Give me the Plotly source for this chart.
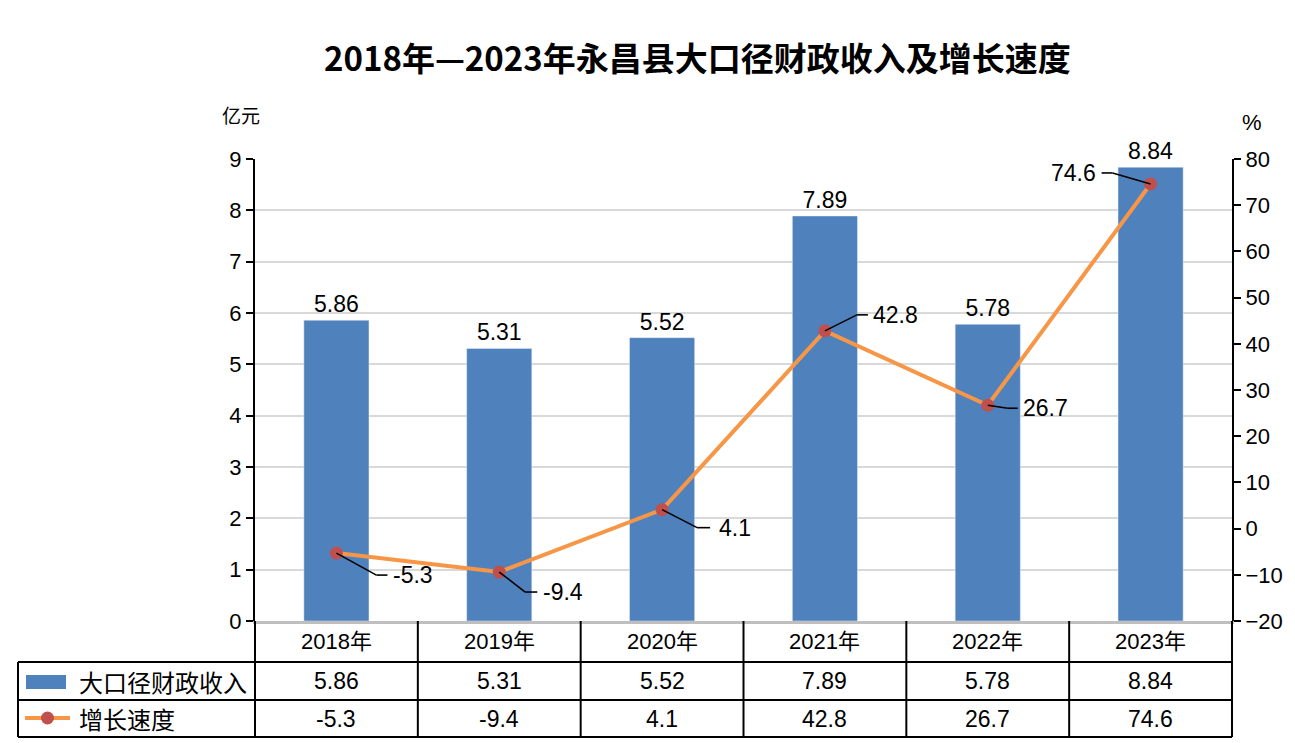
import plotly.graph_objects as go

years = ["2018年", "2019年", "2020年", "2021年", "2022年", "2023年"]
revenue = [5.86, 5.31, 5.52, 7.89, 5.78, 8.84]
growth = [-5.3, -9.4, 4.1, 42.8, 26.7, 74.6]
revenue_name = "大口径财政收入"
growth_name = "增长速度"
title_text = "2018年—2023年永昌县大口径财政收入及增长速度"

# leader-line geometry for growth labels (screen pixels, y down):
# elbow point, end of horizontal segment, text anchor offset
elbow = [(40, 22), (26, 20), (35, 18), (32, -16), (20, 3), (-38, -11)]
seg_end = [51, 38, 48, 43, 30, -49]
text_dx = [55, 42, 55, 46, 33, -53]

# page has an 8px body margin; the figure starts at (8, 8)
OFF = 8
W, H = 1295 - OFF, 743 - OFF
def px(x):
    return (x - OFF) / W
def py(y):
    return 1 - (y - OFF) / H

PL, PR, PT, PB = 255, 1232, 159, 621
NUM_FONT = "Liberation Sans, Arial, Noto Sans CJK SC, sans-serif"
CJK_FONT = "Noto Sans CJK SC, sans-serif"

BLUE = "#4f81bd"
ORANGE = "#f79646"
RED = "#c0504d"

fig = go.Figure()
fig.add_trace(go.Bar(
    x=years, y=revenue, name=revenue_name, marker_color=BLUE,
    text=[f"{v:.2f}" for v in revenue], textposition="outside",
    textfont=dict(family=NUM_FONT, size=23, color="black"),
    cliponaxis=False, showlegend=False,
))
fig.add_trace(go.Scatter(
    x=years, y=growth, name=growth_name, yaxis="y2", mode="lines+markers",
    line=dict(color=ORANGE, width=4),
    marker=dict(color=RED, size=13),
    showlegend=False, cliponaxis=False,
))

annotations = []
shapes = []
leader = dict(color="black", width=1.6)
for i, (yr, g) in enumerate(zip(years, growth)):
    ex, ey = elbow[i]
    shapes.append(dict(type="line", xref="x", yref="y2",
                       xsizemode="pixel", ysizemode="pixel",
                       xanchor=yr, yanchor=g,
                       x0=0, y0=0, x1=ex, y1=-ey, line=leader, layer="above"))
    shapes.append(dict(type="line", xref="x", yref="y2",
                       xsizemode="pixel", ysizemode="pixel",
                       xanchor=yr, yanchor=g,
                       x0=ex, y0=-ey, x1=seg_end[i], y1=-ey, line=leader, layer="above"))
    annotations.append(dict(
        x=yr, y=g, xref="x", yref="y2", text=f"{g}", showarrow=False,
        xanchor="left" if text_dx[i] > 0 else "right", yanchor="middle",
        xshift=text_dx[i], yshift=-ey,
        font=dict(family=NUM_FONT, size=23, color="black"),
    ))

def ptext(x, y, text, family, size, xanchor="center", bold=False):
    return dict(x=px(x), y=py(y), xref="paper", yref="paper",
                xanchor=xanchor, yanchor="middle",
                text=f"<b>{text}</b>" if bold else text, showarrow=False,
                font=dict(family=family, size=size, color="black"))

# title and unit labels
annotations.append(ptext(697, 57, title_text, CJK_FONT, 33, bold=True))
annotations.append(ptext(241, 114, "亿元", CJK_FONT, 19))
annotations.append(ptext(1252, 123, "%", NUM_FONT, 22))

# data table below the chart
n = len(years)
cw = (PR - PL) / n
rows = [621, 662, 700, 737]
TL = 18
line_style = dict(color="black", width=2)
for y in rows[1:]:
    shapes.append(dict(type="line", xref="paper", yref="paper",
                       x0=px(TL), x1=px(PR), y0=py(y), y1=py(y), line=line_style))
shapes.append(dict(type="line", xref="paper", yref="paper",
                   x0=px(TL), x1=px(TL), y0=py(rows[1]), y1=py(rows[3]), line=line_style))
for i in range(n + 1):
    x = PL + i * cw
    shapes.append(dict(type="line", xref="paper", yref="paper",
                       x0=px(x), x1=px(x), y0=py(rows[0]), y1=py(rows[3]), line=line_style))

for i in range(n):
    cx = PL + (i + 0.5) * cw
    annotations.append(ptext(cx, (rows[0] + rows[1]) / 2, years[i], NUM_FONT, 22))
    annotations.append(ptext(cx, (rows[1] + rows[2]) / 2, f"{revenue[i]:.2f}", NUM_FONT, 23))
    annotations.append(ptext(cx, (rows[2] + rows[3]) / 2, f"{growth[i]}", NUM_FONT, 23))

# legend keys inside table
shapes.append(dict(type="rect", xref="paper", yref="paper",
                   x0=px(26), x1=px(66), y0=py(689), y1=py(675),
                   fillcolor=BLUE, line=dict(width=0)))
shapes.append(dict(type="line", xref="paper", yref="paper",
                   x0=px(25), x1=px(70), y0=py(718), y1=py(718),
                   line=dict(color=ORANGE, width=4)))
shapes.append(dict(type="circle", xref="paper", yref="paper",
                   x0=px(41), x1=px(54), y0=py(724.5), y1=py(711.5),
                   fillcolor=RED, line=dict(width=0)))
annotations.append(ptext(77, 681, revenue_name, CJK_FONT, 24, xanchor="left"))
annotations.append(ptext(77, 718, growth_name, CJK_FONT, 24, xanchor="left"))

fig.update_layout(
    width=W, height=H,
    margin=dict(l=0, r=0, t=0, b=0, pad=0, autoexpand=False),
    paper_bgcolor="white", plot_bgcolor="white",
    bargap=0.6,
    xaxis=dict(domain=[px(PL), px(PR)], showticklabels=False, ticks="",
               showline=True, linecolor="#bfbfbf", linewidth=3, showgrid=False,
               type="category", automargin=False),
    yaxis=dict(domain=[py(PB), py(PT)], range=[0, 9], dtick=1,
               showline=True, linecolor="black", linewidth=2,
               ticks="outside", ticklen=7, tickwidth=2, tickcolor="black",
               showgrid=True, gridcolor="#d9d9d9", gridwidth=2,
               tickfont=dict(family=NUM_FONT, size=22, color="black"),
               zeroline=False, automargin=False),
    yaxis2=dict(overlaying="y", side="right", range=[-20, 80], dtick=10,
                showline=True, linecolor="black", linewidth=2,
                ticks="outside", ticklen=7, tickwidth=2, tickcolor="black",
                showgrid=False, zeroline=False, automargin=False,
                tickfont=dict(family=NUM_FONT, size=22, color="black")),
    annotations=annotations,
    shapes=shapes,
)

fig.write_html("out.html")
